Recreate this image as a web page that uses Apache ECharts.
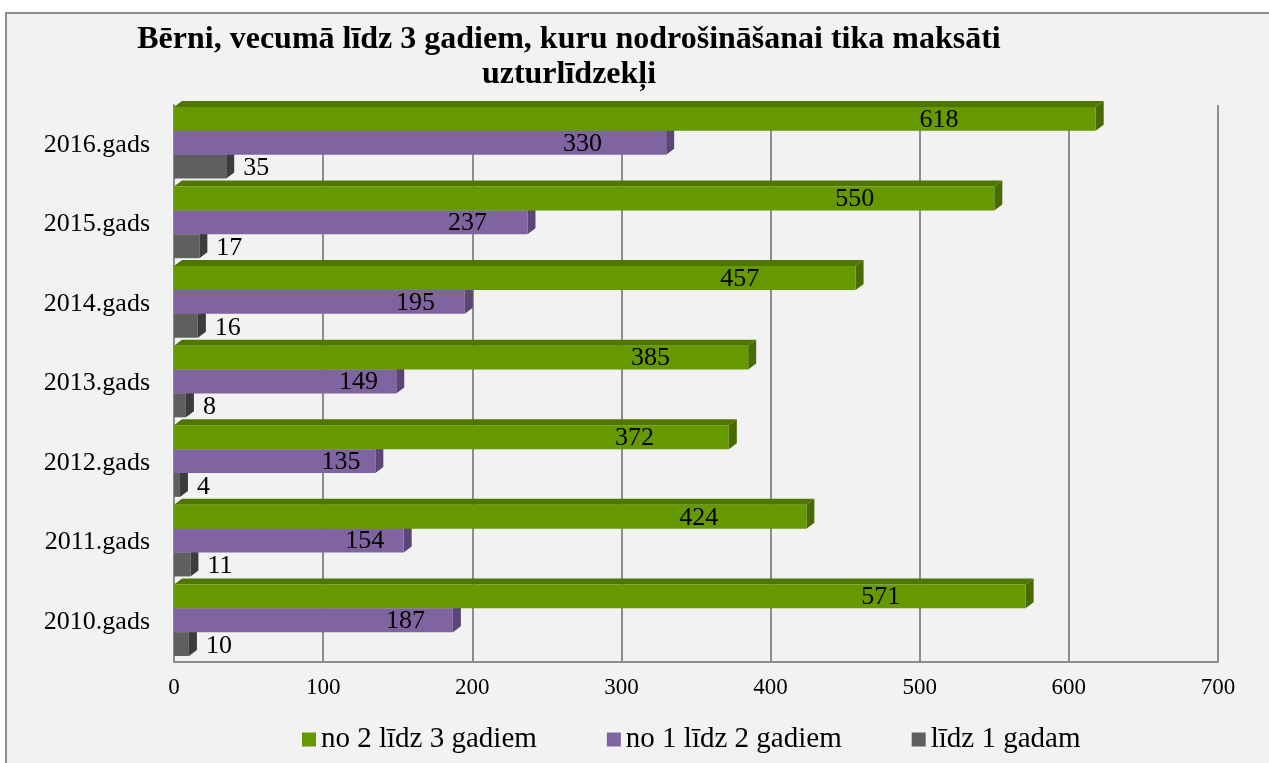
<!DOCTYPE html>
<html>
<head>
<meta charset="utf-8">
<script src="https://cdn.jsdelivr.net/npm/echarts@6/dist/echarts.min.js"></script>
<style>
  html, body { margin: 0; padding: 0; background: #ffffff; }
  #frame {
    position: absolute; left: 5px; top: 12px; width: 1270px; height: 760px;
    background: #f2f2f2; border-left: 2px solid #8c8c8c; border-top: 2px solid #8c8c8c;
  }
  #chart { position: absolute; left: 0; top: 0; width: 1269px; height: 763px; }
</style>
</head>
<body>
<div id="frame"></div>
<div id="chart"></div>
<script>
  var categories = ['2010.gads', '2011.gads', '2012.gads', '2013.gads', '2014.gads', '2015.gads', '2016.gads'];
  var age2to3 = [571, 424, 372, 385, 457, 550, 618];
  var age1to2 = [187, 154, 135, 149, 195, 237, 330];
  var ageTo1 = [10, 11, 4, 8, 16, 17, 35];
  var xTicks = [0, 100, 200, 300, 400, 500, 600, 700];

  var FONT = '"Liberation Serif", "Times New Roman", serif';
  var DX = 8, DY = 6;     // 3D depth offset
  var BAR_FRAC = 0.3;     // bar thickness vs category band

  function toData(arr) {
    return arr.map(function (v, i) { return [v, i]; });
  }

  // draws a bar with a top face and a right face, slot k in the cluster (0 = top)
  function bar3d(k, front, top, side, outsideLabel) {
    return function (params, api) {
      var v = api.value(0), c = api.value(1);
      var p0 = api.coord([0, c]);
      var p1 = api.coord([v, c]);
      var bw = api.size([0, 1])[1] * BAR_FRAC;
      var x0 = p0[0], x1 = p1[0];
      var y0 = p0[1] - 1.5 * bw + k * bw - 2;
      var y1 = y0 + bw;
      var label;
      if (outsideLabel) {
        label = { type: 'text', style: { x: x1 + DX + 9, y: (y0 + y1) / 2 + 2, text: String(v),
          fill: '#000', font: '26px ' + FONT, textAlign: 'left', textVerticalAlign: 'middle' } };
      } else {
        var lx = api.coord([v * 0.83, c])[0];
        label = { type: 'text', style: { x: lx, y: (y0 + y1) / 2 + 1, text: String(v),
          fill: '#000', font: '26px ' + FONT, textAlign: 'center', textVerticalAlign: 'middle' } };
      }
      return {
        type: 'group',
        children: [
          { type: 'polygon', shape: { points: [[x0, y0], [x0 + DX, y0 - DY], [x1 + DX, y0 - DY], [x1, y0]] },
            style: { fill: top } },
          { type: 'polygon', shape: { points: [[x1, y0], [x1 + DX, y0 - DY], [x1 + DX, y1 - DY], [x1, y1]] },
            style: { fill: side } },
          { type: 'rect', shape: { x: x0, y: y0, width: x1 - x0, height: bw }, style: { fill: front } },
          label
        ]
      };
    };
  }

  var chart = echarts.init(document.getElementById('chart'));
  chart.setOption({
    backgroundColor: 'transparent',
    animation: false,
    title: {
      text: 'Bērni, vecumā līdz 3 gadiem, kuru nodrošināšanai tika maksāti\nuzturlīdzekļi',
      left: 564,
      top: 17,
      textAlign: 'center',
      textStyle: { fontFamily: FONT, fontSize: 32, fontWeight: 'bold', lineHeight: 35, color: '#000' }
    },
    legend: {
      left: 297,
      bottom: 4,
      itemGap: 70,
      itemWidth: 14,
      itemHeight: 14,
      icon: 'rect',
      textStyle: { fontFamily: FONT, fontSize: 29, color: '#000' },
      data: ['no 2 līdz 3 gadiem', 'no 1 līdz 2 gadiem', 'līdz 1 gadam']
    },
    grid: { left: 174, right: 51, top: 105, bottom: 101 },
    xAxis: {
      type: 'value',
      min: xTicks[0],
      max: xTicks[xTicks.length - 1],
      interval: 100,
      axisLine: { show: true, lineStyle: { color: '#8c8c8c', width: 2 } },
      axisTick: { show: false },
      axisLabel: { margin: 14, fontFamily: FONT, fontSize: 23, color: '#000' },
      splitLine: { show: true, lineStyle: { color: '#8c8c8c', width: 2 } }
    },
    yAxis: {
      type: 'category',
      data: categories,
      axisLine: { show: true, lineStyle: { color: '#8c8c8c', width: 2 } },
      axisTick: { show: false },
      axisLabel: { margin: 24, fontFamily: FONT, fontSize: 26, color: '#000' }
    },
    series: [
      {
        name: 'no 2 līdz 3 gadiem', type: 'custom', z: 4,
        itemStyle: { color: '#669900' },
        encode: { x: 0, y: 1 },
        renderItem: bar3d(0, '#669900', '#4e7600', '#476b00', false),
        data: toData(age2to3)
      },
      {
        name: 'no 1 līdz 2 gadiem', type: 'custom', z: 3,
        itemStyle: { color: '#8064a2' },
        encode: { x: 0, y: 1 },
        renderItem: bar3d(1, '#8064a2', '#66507f', '#5c4677', false),
        data: toData(age1to2)
      },
      {
        name: 'līdz 1 gadam', type: 'custom', z: 2,
        itemStyle: { color: '#5f5f5f' },
        encode: { x: 0, y: 1 },
        renderItem: bar3d(2, '#5f5f5f', '#4a4a4a', '#3c3c3c', true),
        data: toData(ageTo1)
      }
    ]
  });
</script>
</body>
</html>
